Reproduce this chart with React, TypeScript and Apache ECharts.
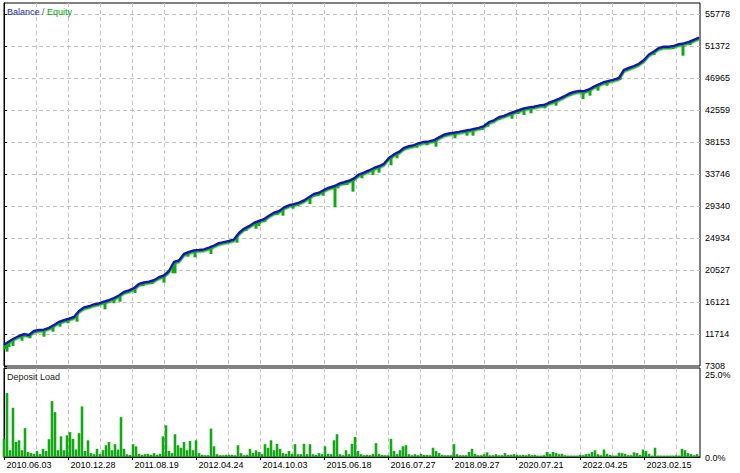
import React, { useEffect, useRef } from 'react';
import * as echarts from 'echarts';

// x axis: trade number (one unit per trade), tick labels are dates
const dateLabels = ['2010.06.03', '2010.12.28', '2011.08.19', '2012.04.24', '2014.10.03', '2015.06.18', '2016.07.27', '2018.09.27', '2020.07.21', '2022.04.25', '2023.02.15'];
const TRADES = 696;
const LABEL_EVERY = 64;

// balance, sampled every 5 trades
const BAL_STEP = 5;
const balance = [
  10200, 10682, 11095, 11439, 11673, 11577, 12128, 12265, 12307, 12568,
  12954, 13367, 13601, 13821, 14055, 14882, 15363, 15529, 15790, 15928,
  16162, 16369, 16644, 17016, 17498, 17704, 18021, 18599, 18806, 18902,
  19109, 19522, 19770, 20390, 21629, 21835, 22730, 23006, 23212, 23281,
  23364, 23598, 23873, 24218, 24369, 24521, 24713, 25622, 26200, 26558,
  26999, 27275, 27509, 27991, 28404, 28610, 29133, 29436, 29588, 29808,
  30097, 30538, 30992, 31158, 31543, 31860, 32053, 32397, 32603, 32810,
  33127, 33664, 33925, 34228, 34573, 34807, 35151, 35950, 36445, 36776,
  37327, 37561, 37712, 37988, 38167, 38235, 38387, 38786, 39144, 39323,
  39420, 39544, 39681, 39791, 39943, 40094, 40342, 40879, 41141, 41554,
  41747, 42036, 42284, 42518, 42766, 42903, 43000, 43165, 43234, 43551,
  43799, 44101, 44418, 44790, 45038, 45162, 45134, 45382, 45781, 46084,
  46387, 46566, 46745, 46966, 48067, 48343, 48604, 48921, 49444, 50202,
  50615, 51097, 51262, 51276, 51386, 51606, 51730, 51923, 52226, 52515,
];

// equity drawdowns: trade number and lowest equity
const equityTrade = [
  1, 3, 5, 9, 18, 26, 40, 49, 56, 64,
  73, 78, 101, 110, 116, 131, 139, 148, 160, 169,
  171, 184, 191, 207, 233, 242, 252, 255, 261, 268,
  273, 279, 289, 294, 306, 310, 314, 319, 324, 331,
  334, 340, 343, 349, 358, 369, 375, 387, 393, 413,
  423, 432, 451, 463, 469, 478, 484, 495, 508, 514,
  520, 527, 541, 552, 566, 579, 586, 594, 603, 616,
  629, 639, 650, 663, 669, 679, 686,
];
const equityLow = [
  9649, 9277, 9924, 10062, 10792, 11122, 11343, 12031, 12720, 13188,
  13408, 14882, 15116, 15942, 16162, 17360, 18324, 18599, 18778, 20073,
  20073, 22359, 22276, 22730, 24286, 25898, 26214, 26586, 27178, 28059,
  28101, 28004, 28968, 29340, 29615, 30621, 30717, 30758, 31543, 29161,
  31777, 32232, 32232, 31309, 33154, 33609, 33925, 34944, 35908, 37368,
  37698, 37506, 38662, 39020, 39020, 39805, 40260, 41182, 41361, 42008,
  41871, 42105, 42793, 43151, 44487, 44074, 44528, 45217, 45905, 46690,
  48301, 48990, 50133, 50959, 50959, 50036, 51510,
];

// deposit load (%), sampled every 3 trades
const LOAD_STEP = 3;
const depositLoad = [
  5.0, 18.0, 1.9, 13.8, 4.2, 4.7, 1.9, 8.1, 1.4, 1.1,
  0.9, 1.7, 0.8, 2.3, 1.7, 5.0, 15.7, 12.6, 1.9, 5.8,
  1.9, 6.1, 7.0, 5.1, 2.1, 6.7, 14.2, 1.7, 4.7, 1.1,
  0.8, 2.3, 0.8, 1.9, 3.3, 4.2, 1.9, 3.6, 2.1, 11.2,
  2.3, 0.8, 0.6, 3.6, 3.0, 0.9, 0.6, 0.8, 0.9, 0.6,
  1.1, 0.6, 0.9, 5.8, 8.9, 1.7, 1.1, 6.4, 3.3, 2.6,
  4.2, 1.9, 4.5, 1.9, 4.7, 1.1, 0.6, 0.5, 0.5, 8.0,
  3.0, 0.8, 0.5, 0.5, 0.6, 0.6, 0.6, 0.5, 3.3, 1.1,
  0.5, 0.6,
  2.3, 1.1, 1.9, 1.4, 0.8, 3.6, 2.6, 4.7, 1.9, 3.7,
  2.3, 1.1, 0.9, 1.7, 0.9, 3.6, 0.8, 0.8, 3.7, 0.8,
  3.6, 0.8, 0.6, 1.1, 0.8, 3.0, 0.9, 0.8, 4.7, 6.4,
  0.8, 0.5, 1.9, 0.8, 3.7, 5.6, 1.7, 0.8, 0.5, 0.6,
  0.5, 0.9, 3.9, 0.9, 0.6, 0.5, 0.5, 5.1, 1.7, 0.8,
  1.9, 3.0, 3.3, 0.8, 0.5, 0.8, 0.5, 0.9, 0.6, 0.6,
  0.5, 2.6, 1.7, 1.1, 0.6, 0.5, 0.5, 0.5, 3.6, 0.8,
  0.5, 0.5, 0.5, 1.4, 2.3, 0.9, 0.5, 0.5, 0.8, 1.3,
  0.5, 0.5, 0.8,
  0.5, 0.5, 1.1, 0.6, 0.6, 0.8, 0.6, 0.5, 0.6, 0.5,
  0.8, 0.5, 0.6, 0.4, 0.4, 0.5, 1.4, 0.9, 1.4, 1.1,
  0.8, 0.9, 0.5, 0.4, 0.4, 0.4, 0.4, 0.6, 0.5, 0.8,
  0.9, 1.4, 1.9, 0.8, 0.5, 2.1, 0.9, 0.6, 0.4, 0.4,
  1.2, 1.1, 0.9, 0.5, 0.5, 1.3, 1.1, 0.6, 2.1, 1.7,
  0.9, 0.4, 2.6, 0.4, 0.4, 0.4, 0.4, 0.4, 0.4, 0.5,
  0.4, 2.3, 1.9, 1.1, 0.8, 0.5, 0.8,
];

const BAL_MIN = 7308.1;
const BAL_STEP_TICK = 4406.3636;
const BAL_MAX = BAL_MIN + BAL_STEP_TICK * (363 / 32);
const LOAD_MAX = 25;

const FONT = 'Liberation Sans';
const BLUE = '#1212aa';
const GREEN = '#12aa12';
const GRID = '#c4c4c4';

function balanceAt(t: number): number {
  const f = t / BAL_STEP;
  const i = Math.max(0, Math.min(balance.length - 2, Math.floor(f)));
  const r = f - i;
  return balance[i] + (balance[i + 1] - balance[i]) * r;
}

const dashed = {
  show: true,
  showMinLine: false,
  showMaxLine: false,
  lineStyle: { color: GRID, type: [4, 3], width: 1 },
};

export default function App() {
  const ref = useRef<HTMLDivElement>(null);
  useEffect(() => {
    const chart = echarts.init(ref.current!, null, { renderer: 'svg' });
    const option: any = {
      animation: false,
      backgroundColor: '#ffffff',
      textStyle: { fontFamily: FONT },
      grid: [
        { left: 4, right: 40, top: 3, height: 363, show: true, borderColor: '#000', borderWidth: 1 },
        { left: 4, right: 40, top: 368, height: 89, show: true, borderColor: '#000', borderWidth: 1 },
      ],
      xAxis: [
        {
          gridIndex: 0, type: 'value', min: 0, max: TRADES, interval: 32,
          axisLine: { show: false }, axisTick: { show: false }, axisLabel: { show: false },
          splitLine: dashed,
        },
        {
          gridIndex: 1, type: 'value', min: 0, max: TRADES, interval: 32,
          axisLine: { show: false }, axisTick: { show: false }, axisLabel: { show: false },
          splitLine: dashed,
        },
        {
          gridIndex: 1, type: 'value', position: 'bottom', min: 0, max: TRADES, interval: LABEL_EVERY,
          axisLine: { show: true, lineStyle: { color: '#000', width: 1 } },
          axisTick: { show: true, length: 3, lineStyle: { color: '#000' } },
          splitLine: { show: false },
          axisLabel: {
            show: true, align: 'left', margin: 3, color: '#000', fontFamily: FONT, fontSize: 9,
            showMaxLabel: false,
            formatter: (v: number) => {
              const k = Math.round(v / LABEL_EVERY);
              return Math.abs(v - k * LABEL_EVERY) < 0.01 && dateLabels[k] ? ' ' + dateLabels[k] : '';
            },
          },
        },
      ],
      yAxis: [
        {
          gridIndex: 0, type: 'value', position: 'right', min: BAL_MIN, max: BAL_MAX, interval: BAL_STEP_TICK,
          axisLine: { show: true, lineStyle: { color: '#000', width: 1 } },
          axisTick: { show: true, length: 3, lineStyle: { color: '#000' } },
          splitLine: dashed,
          axisLabel: {
            margin: 5, color: '#000', fontFamily: FONT, fontSize: 9, showMaxLabel: false,
            formatter: (v: number) => (v > BAL_MAX - 100 ? '' : String(Math.round(v))),
          },
        },
        {
          gridIndex: 1, type: 'value', position: 'right', min: 0, max: LOAD_MAX, interval: LOAD_MAX,
          axisLine: { show: true, lineStyle: { color: '#000', width: 1 } },
          axisTick: { show: true, length: 3, lineStyle: { color: '#000' } },
          splitLine: { show: false },
          axisLabel: {
            margin: 5, color: '#000', fontFamily: FONT, fontSize: 9,
            formatter: (v: number) => (v === LOAD_MAX ? '{t|' + v.toFixed(1) + '%}' : v === 0 ? '{z|' + v.toFixed(1) + '%}' : ''),
            rich: {
              t: { fontFamily: FONT, fontSize: 9, color: '#000', padding: [14, 0, 0, 0] },
              z: { fontFamily: FONT, fontSize: 9, color: '#000', padding: [2, 0, 0, 0] },
            },
          },
        },
      ],
      graphic: [
        {
          type: 'text', left: 7, top: 7, z: 100,
          style: {
            text: '{b|Balance} {s|/} {e|Equity}',
            font: '9px ' + FONT,
            rich: {
              b: { fill: '#1a1ab8', font: '9px ' + FONT },
              s: { fill: '#4a4ab0', font: '9px ' + FONT },
              e: { fill: '#0a9e0a', font: '9px ' + FONT },
            },
          },
        },
        {
          type: 'text', left: 7, top: 372, z: 100,
          style: { text: 'Deposit Load', fill: '#222', font: '9px ' + FONT },
        },
      ],
      series: [
        {
          type: 'custom', name: 'Equity', xAxisIndex: 0, yAxisIndex: 0, z: 2,
          data: equityTrade.map((t, i) => [t, equityLow[i]]),
          renderItem: (params: any, api: any) => {
            const t = api.value(0);
            const low = api.value(1);
            const top = balanceAt(t);
            const pTop = api.coord([t, top]);
            const pLow = api.coord([t, low]);
            const y0 = Math.min(pTop[1], pLow[1]);
            const h = Math.abs(pLow[1] - pTop[1]);
            return {
              type: 'rect',
              shape: { x: pTop[0] - 1.5, y: y0, width: 3, height: h },
              style: { fill: GREEN },
            };
          },
        },
        {
          type: 'line', name: 'Balance', xAxisIndex: 0, yAxisIndex: 0, z: 3,
          data: balance.map((v, i) => [i * BAL_STEP, v]),
          showSymbol: false, symbol: 'none',
          lineStyle: { color: BLUE, width: 2.5, shadowColor: GREEN, shadowOffsetY: 1.5, shadowBlur: 0 },
        },
        {
          type: 'bar', name: 'Deposit Load', xAxisIndex: 2, yAxisIndex: 1,
          data: depositLoad.map((v, i) => [i * LOAD_STEP, v]),
          barWidth: 2.6,
          itemStyle: { color: GREEN },
        },
      ],
    };
    chart.setOption(option);
    return () => chart.dispose();
  }, []);
  return <div ref={ref} style={{ position: 'absolute', left: 0, top: 0, width: 740, height: 473 }} />;
}
